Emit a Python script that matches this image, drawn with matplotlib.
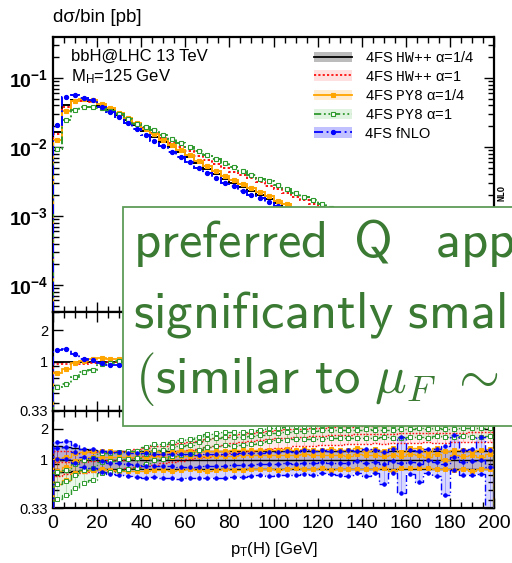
import numpy as np
import matplotlib
matplotlib.use("Agg")
import matplotlib.pyplot as plt
from matplotlib.patches import Rectangle, Patch
from matplotlib.lines import Line2D
from matplotlib.ticker import FixedLocator, FixedFormatter, NullFormatter, LogLocator, MultipleLocator

plt.rcParams['font.family'] = ['Liberation Sans', 'DejaVu Sans']
plt.rcParams['mathtext.fontset'] = 'custom'
plt.rcParams['mathtext.rm'] = 'Liberation Sans'
plt.rcParams['mathtext.it'] = 'Liberation Sans:italic'
plt.rcParams['mathtext.bf'] = 'Liberation Sans:bold'
plt.rcParams['mathtext.tt'] = 'Liberation Mono'
plt.rcParams['mathtext.sf'] = 'Liberation Sans'

# ---------------- data ----------------
pt_edges = np.arange(0, 204, 4)  # 50 bins of 4 GeV

hw_a14 = [0.0163, 0.040, 0.0485, 0.0485, 0.046, 0.039, 0.0345, 0.0296, 0.025, 0.021,
          0.0172, 0.0142, 0.0119, 0.0099, 0.0084, 0.0071, 0.00585, 0.00485, 0.00411, 0.00349,
          0.00306, 0.00265, 0.0023, 0.00201, 0.00175, 0.00152, 0.00132, 0.00115, 0.00100, 0.00088,
          0.00077, 0.00068, 0.00060, 0.00053, 0.00047, 0.00041, 0.00036, 0.00032, 0.00028, 0.00025,
          0.00022, 0.00019, 0.00017, 0.00015, 0.000135, 0.00012, 0.000105, 0.000093, 0.000083, 0.000074]

hw_a1 = [0.0153, 0.038, 0.0461, 0.0461, 0.0442, 0.0378, 0.0338, 0.0296, 0.0255, 0.0221,
         0.0186, 0.0158, 0.0136, 0.0116, 0.0101, 0.0088, 0.00749, 0.0064, 0.00559, 0.00489,
         0.00441, 0.00392, 0.0035, 0.00312, 0.00277, 0.00245, 0.00216, 0.00191, 0.00168, 0.0015,
         0.00132, 0.00118, 0.00105, 0.00093, 0.00083, 0.00073, 0.00064, 0.00057, 0.000504, 0.000453,
         0.000398, 0.000346, 0.00031, 0.000275, 0.000248, 0.00022, 0.000193, 0.000172, 0.000154, 0.000138]

py_a14 = [0.01255, 0.0336, 0.0466, 0.0495, 0.0488, 0.0417, 0.0366, 0.0311, 0.02625, 0.02226,
          0.01823, 0.0152, 0.01273, 0.01059, 0.00907, 0.00767, 0.00632, 0.00524, 0.00448, 0.0038,
          0.00334, 0.00292, 0.00253, 0.00221, 0.00193, 0.00167, 0.00147, 0.00127, 0.00112, 0.00097,
          0.00086, 0.00075, 0.00067, 0.00058, 0.00053, 0.00045, 0.0004, 0.00035, 0.00031, 0.00027,
          0.00025, 0.00021, 0.00018, 0.00017, 0.000135, 0.000132, 0.000113, 0.000102, 0.000087, 0.000083]

py_a1 = [0.0093, 0.0245, 0.0345, 0.038, 0.038, 0.037, 0.0335, 0.0298, 0.0255, 0.0218,
         0.0195, 0.0175, 0.0148, 0.0130, 0.0114, 0.0099, 0.0087, 0.0077, 0.0067, 0.00585,
         0.00506, 0.00444, 0.00389, 0.00349, 0.00318, 0.0028, 0.00248, 0.00219, 0.0019, 0.00169,
         0.00149, 0.00132, 0.00117, 0.00103, 0.00092, 0.00081, 0.00071, 0.00063, 0.00055, 0.0005,
         0.00044, 0.000384, 0.00034, 0.000303, 0.00027, 0.000242, 0.000213, 0.000188, 0.000168, 0.00015]

fnlo = [0.0212, 0.0532, 0.0572, 0.0514, 0.0478, 0.0374, 0.0321, 0.0272, 0.0225, 0.0185,
        0.0150, 0.01235, 0.01023, 0.00851, 0.00714, 0.00604, 0.00497, 0.00417, 0.00353, 0.00304,
        0.00269, 0.00233, 0.00205, 0.00181, 0.00158, 0.00138, 0.00121, 0.00104, 0.00093, 0.00081,
        0.00073, 0.00063, 0.00056, 0.00049, 0.00045, 0.00038, 0.00034, 0.00029, 0.00027, 0.00023,
        0.00021, 0.00017, 0.00017, 0.000143, 0.000122, 0.000126, 0.0001, 0.00009, 0.000083, 0.000063]

# scale-variation band edges, relative to each curve's own central value
hw_a14_lo = [0.75, 0.76, 0.77, 0.78, 0.79, 0.80, 0.80, 0.80, 0.81, 0.80, 0.80, 0.81, 0.80, 0.80, 0.81, 0.80, 0.80,
             0.81, 0.80, 0.80, 0.81, 0.80, 0.80, 0.80, 0.81, 0.80, 0.80, 0.81, 0.80, 0.80, 0.80, 0.81, 0.80, 0.80,
             0.80, 0.81, 0.80, 0.80, 0.80, 0.81, 0.80, 0.80, 0.81, 0.80, 0.80, 0.80, 0.81, 0.80, 0.80, 0.80]
hw_a14_hi = [1.35, 1.33, 1.30, 1.27, 1.24, 1.22, 1.21, 1.20, 1.20, 1.21, 1.20, 1.20, 1.21, 1.20, 1.20, 1.21, 1.20,
             1.20, 1.21, 1.20, 1.20, 1.21, 1.20, 1.20, 1.21, 1.20, 1.20, 1.21, 1.20, 1.21, 1.20, 1.20, 1.21, 1.20,
             1.22, 1.20, 1.21, 1.20, 1.22, 1.20, 1.21, 1.20, 1.22, 1.20, 1.21, 1.20, 1.22, 1.21, 1.20, 1.22]
hw_a1_lo = [0.74, 0.75, 0.76, 0.77, 0.78, 0.78, 0.79, 0.79, 0.80, 0.80, 0.80, 0.80, 0.81, 0.80, 0.80, 0.81, 0.80,
            0.80, 0.81, 0.80, 0.80, 0.81, 0.80, 0.80, 0.81, 0.80, 0.80, 0.81, 0.80, 0.80, 0.81, 0.80, 0.80, 0.81,
            0.80, 0.80, 0.81, 0.80, 0.80, 0.81, 0.80, 0.80, 0.81, 0.80, 0.80, 0.81, 0.80, 0.80, 0.81, 0.80]
hw_a1_hi = [1.30, 1.28, 1.26, 1.25, 1.24, 1.23, 1.22, 1.21, 1.20, 1.20, 1.20, 1.21, 1.20, 1.20, 1.21, 1.20, 1.20,
            1.21, 1.20, 1.20, 1.21, 1.20, 1.20, 1.21, 1.20, 1.20, 1.21, 1.20, 1.20, 1.21, 1.20, 1.20, 1.21, 1.20,
            1.20, 1.21, 1.20, 1.20, 1.21, 1.20, 1.20, 1.21, 1.20, 1.20, 1.21, 1.20, 1.20, 1.21, 1.20, 1.20]
py_a14_lo = [0.74, 0.74, 0.77, 0.76, 0.75, 0.75, 0.74, 0.74, 0.73, 0.73, 0.73, 0.74, 0.73, 0.72, 0.73, 0.74, 0.73,
             0.72, 0.73, 0.74, 0.73, 0.72, 0.73, 0.74, 0.73, 0.72, 0.73, 0.74, 0.72, 0.73, 0.74, 0.72, 0.73, 0.74,
             0.71, 0.74, 0.72, 0.75, 0.70, 0.76, 0.72, 0.74, 0.78, 0.71, 0.80, 0.72, 0.75, 0.70, 0.77, 0.72]
py_a14_hi = [1.30, 1.25, 1.20, 1.17, 1.15, 1.14, 1.13, 1.13, 1.12, 1.12, 1.12, 1.13, 1.12, 1.12, 1.13, 1.12, 1.12,
             1.13, 1.12, 1.12, 1.13, 1.12, 1.12, 1.13, 1.12, 1.12, 1.13, 1.12, 1.12, 1.13, 1.12, 1.14, 1.11, 1.13,
             1.15, 1.10, 1.14, 1.12, 1.16, 1.10, 1.14, 1.18, 1.12, 1.15, 1.20, 1.12, 1.16, 1.11, 1.18, 1.13]
py_a1_lo = [0.72, 0.73, 0.74, 0.75, 0.76, 0.77, 0.78, 0.78, 0.79, 0.80, 0.80, 0.81, 0.81, 0.82, 0.82, 0.82, 0.83,
            0.83, 0.83, 0.83, 0.83, 0.83, 0.84, 0.83, 0.83, 0.84, 0.83, 0.83, 0.84, 0.83, 0.83, 0.84, 0.83, 0.83,
            0.84, 0.83, 0.82, 0.84, 0.83, 0.82, 0.84, 0.83, 0.82, 0.84, 0.83, 0.82, 0.84, 0.83, 0.82, 0.84]
py_a1_hi = [1.33, 1.30, 1.28, 1.26, 1.24, 1.22, 1.20, 1.19, 1.18, 1.17, 1.16, 1.15, 1.15, 1.14, 1.14, 1.13, 1.13,
            1.12, 1.12, 1.12, 1.12, 1.12, 1.12, 1.12, 1.12, 1.12, 1.12, 1.12, 1.12, 1.12, 1.12, 1.12, 1.12, 1.12,
            1.12, 1.12, 1.12, 1.12, 1.12, 1.12, 1.12, 1.12, 1.12, 1.12, 1.12, 1.12, 1.12, 1.12, 1.12, 1.12]
fnlo_lo = [0.77, 0.76, 0.78, 0.80, 0.79, 0.78, 0.77, 0.77, 0.76, 0.76, 0.76, 0.77, 0.76, 0.77, 0.76, 0.77, 0.78,
           0.76, 0.77, 0.76, 0.77, 0.76, 0.77, 0.78, 0.76, 0.77, 0.76, 0.77, 0.78, 0.76, 0.77, 0.78, 0.76, 0.74,
           0.77, 0.75, 0.78, 0.64, 0.76, 0.51, 0.75, 0.67, 0.74, 0.72, 0.50, 0.75, 0.74, 0.72, 0.72, 0.30]
fnlo_hi = [1.15, 1.14, 1.18, 1.20, 1.22, 1.25, 1.27, 1.28, 1.30, 1.31, 1.32, 1.31, 1.33, 1.32, 1.33, 1.32, 1.31,
           1.33, 1.32, 1.31, 1.30, 1.32, 1.31, 1.30, 1.32, 1.31, 1.33, 1.30, 1.32, 1.31, 1.30, 1.32, 1.31, 1.35,
           1.28, 1.36, 1.30, 1.30, 1.33, 1.82, 1.30, 1.35, 1.28, 1.33, 1.50, 1.65, 1.30, 1.32, 1.67, 1.45]

labels = [r"4FS $\mathtt{HW{+}{+}}$ α=1/4", r"4FS $\mathtt{HW{+}{+}}$ α=1",
          r"4FS $\mathtt{PY8}$ α=1/4", r"4FS $\mathtt{PY8}$ α=1", "4FS fNLO"]

# ---------------- styles ----------------
series = [
    dict(v=hw_a14, lo=hw_a14_lo, hi=hw_a14_hi, c='black', ls='-', m=None, mfc=None, band='#888888', ba=0.35),
    dict(v=hw_a1, lo=hw_a1_lo, hi=hw_a1_hi, c='#ff1010', ls=(0, (1.2, 1.2)), m=None, mfc=None, band='#ff6060', ba=0.12),
    dict(v=py_a14, lo=py_a14_lo, hi=py_a14_hi, c='#ffa500', ls='-', m='s', mfc='#ffa500', band='#ffb040', ba=0.15),
    dict(v=py_a1, lo=py_a1_lo, hi=py_a1_hi, c='#2e9a2e', ls=(0, (4, 1.5, 1, 1.5, 1, 1.5)), m='s', mfc='white', band='#60c060', ba=0.12),
    dict(v=fnlo, lo=fnlo_lo, hi=fnlo_hi, c='#0000ff', ls=(0, (5, 2, 1, 2)), m='o', mfc='#0000ff', band='#5050ff', ba=0.22),
]

edges = pt_edges
centers = 0.5 * (edges[:-1] + edges[1:])
ref = np.array(hw_a14)

W, H = 512, 563
fig = plt.figure(figsize=(W / 100, H / 100), dpi=100)

def fy(p):
    return 1 - p / H

x0, x1 = 53 / W, 494 / W
ax0 = fig.add_axes([x0, fy(312), x1 - x0, fy(37) - fy(312)])
ax1 = fig.add_axes([x0, fy(411), x1 - x0, fy(312) - fy(411)])
ax2 = fig.add_axes([x0, fy(508), x1 - x0, fy(411) - fy(508)])

ms_map = {'s': 3.4, 'o': 3.0}
ms_small = {'s': 2.8, 'o': 2.5}

# main panel
for s in series:
    v = np.array(s['v'])
    ax0.stairs(v, edges, color=s['c'], ls=s['ls'], lw=1.4, zorder=3)
    if s['m']:
        ax0.plot(centers, v, ls='none', marker=s['m'], ms=ms_map[s['m']], mfc=s['mfc'],
                 mec=s['c'], mew=0.8, zorder=4)

ax0.set_yscale('log')
ax0.set_ylim(4.07e-5, 0.393)

# ratio panel 1: central / reference
for s in series:
    r = np.array(s['v']) / ref
    ax1.stairs(r, edges, color=s['c'], ls=s['ls'], lw=1.3, zorder=3)
    if s['m']:
        ax1.plot(centers, r, ls='none', marker=s['m'], ms=ms_map[s['m']], mfc=s['mfc'],
                 mec=s['c'], mew=0.8, zorder=4)

# ratio panel 2: scale bands / reference
for s in series:
    r = np.array(s['v']) / ref
    lo = r * np.array(s['lo'])
    hi = r * np.array(s['hi'])
    ax2.stairs(hi, edges, baseline=lo, fill=True, color=s['band'], alpha=s['ba'], lw=0, zorder=1)
    ax2.vlines(centers, lo, hi, color=s['c'], lw=0.5, alpha=0.35, zorder=2)
for s in series:
    r = np.array(s['v']) / ref
    lo = r * np.array(s['lo'])
    hi = r * np.array(s['hi'])
    for arr in (lo, hi, r):
        ax2.stairs(arr, edges, color=s['c'], ls=s['ls'], lw=1.0, zorder=3)
        if s['m']:
            ax2.plot(centers, arr, ls='none', marker=s['m'], ms=ms_small[s['m']], mfc=s['mfc'],
                     mec=s['c'], mew=0.7, zorder=4)

for ax in (ax1, ax2):
    ax.set_yscale('log')
    ax.set_ylim(1 / 3, 3)
    ax.yaxis.set_major_locator(FixedLocator([1 / 3, 1, 2]))
    ax.yaxis.set_major_formatter(FixedFormatter(['0.33', '1', '2']))
    ax.yaxis.set_minor_locator(FixedLocator([0.4, 0.5, 0.6, 0.7, 0.8, 0.9, 3]))
    ax.yaxis.set_minor_formatter(NullFormatter())
    ax.tick_params(axis='y', labelsize=10.5)

ax0.yaxis.set_major_locator(FixedLocator([1e-4, 1e-3, 1e-2, 1e-1]))
ax0.yaxis.set_major_formatter(FixedFormatter([r'$\mathbf{10^{-4}}$', r'$\mathbf{10^{-3}}$',
                                              r'$\mathbf{10^{-2}}$', r'$\mathbf{10^{-1}}$']))
ax0.yaxis.set_minor_locator(LogLocator(base=10, subs=np.arange(2, 10)))
ax0.yaxis.set_minor_formatter(NullFormatter())
ax0.tick_params(axis='y', labelsize=14)

for ax in (ax0, ax1, ax2):
    ax.set_xlim(0, 200)
    ax.xaxis.set_major_locator(MultipleLocator(20))
    ax.xaxis.set_minor_locator(MultipleLocator(5))
    ax.tick_params(which='both', direction='in', top=True, right=True, width=1.0)
    ax.tick_params(which='major', length=7)
    ax.tick_params(which='minor', length=4)
    for sp in ax.spines.values():
        sp.set_linewidth(1.6)
ax0.tick_params(labelbottom=False)
ax1.tick_params(labelbottom=False)
ax2.tick_params(axis='x', labelsize=14, pad=5)
ax2.set_xlabel(r"p$_\mathrm{T}$(H) [GeV]", fontsize=12, labelpad=6)

# texts
fig.text(53 / W, fy(18), "dσ/bin [pb]", fontsize=13.5, ha='left', va='center')
ax0.text(0.04, 0.93, "bbH@LHC 13 TeV", transform=ax0.transAxes, fontsize=12, ha='left', va='center')
ax0.text(0.04, 0.855, r"M$_\mathrm{H}$=125 GeV", transform=ax0.transAxes, fontsize=12, ha='left', va='center')

# legend
handles = []
for s in series:
    p = Patch(facecolor=s['band'], alpha=min(1, s['ba'] * 1.6), edgecolor='none')
    l = Line2D([], [], color=s['c'], ls=s['ls'], lw=1.3, marker=s['m'] if s['m'] else None,
               ms=ms_map.get(s['m'], 0), mfc=s['mfc'], mec=s['c'], mew=0.8)
    handles.append((p, l))
fig.legend(handles, labels, loc='upper right', bbox_to_anchor=(480 / W, fy(44)), frameon=False,
           fontsize=10.5, handlelength=2.6, handletextpad=0.9, labelspacing=0.32, borderaxespad=0)

fig.text(502 / W, fy(185), "NLO", rotation=90, va='top', ha='center', fontsize=6.5,
         family='DejaVu Sans Mono', weight='bold')

# overlay box with slide text
box = Rectangle((122.7 / W, fy(426)), 1.0, fy(207) - fy(426), transform=fig.transFigure,
                facecolor='white', edgecolor='#5e9c58', lw=1.3, zorder=10)
fig.add_artist(box)
tc = '#3b7a33'
fs = 38
kw = dict(color=tc, fontsize=fs, va='baseline', ha='left', zorder=11, math_fontfamily='cm')
fig.text(133 / W, fy(256.7), r"$\mathsf{preferred}$", **kw)
fig.text(353 / W, fy(256.7), r"$\mathsf{Q}$", **kw)
fig.text(435 / W, fy(256.7), r"$\mathsf{app}$", **kw)
fig.text(133 / W, fy(328), r"$\mathsf{significantly\ smal}$", **kw)
fig.text(135 / W, fy(393), r"$\mathsf{(similar\ to}\ \mu_F\ \sim$", **kw)

fig.savefig("out.png", dpi=100)
